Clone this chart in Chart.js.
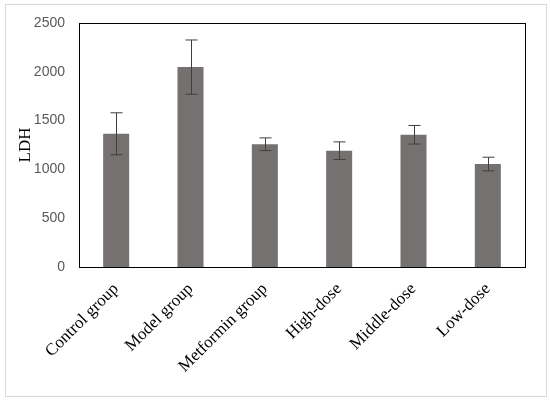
<!DOCTYPE html>
<html>
<head>
<meta charset="utf-8">
<script src="https://cdn.jsdelivr.net/npm/chart.js@4/dist/chart.umd.min.js"></script>
<style>
  html, body { margin: 0; padding: 0; background: #fff; }
  #wrap { width: 550px; height: 403px; position: relative; }
</style>
</head>
<body>
<div id="wrap"><canvas id="chart" width="550" height="403"></canvas></div>
<script>
// Data
const groups = ["Control group", "Model group", "Metformin group", "High-dose", "Middle-dose", "Low-dose"];
const ldhValues = [1365, 2048, 1258, 1192, 1355, 1055];
const ldhErrors = [215, 278, 65, 90, 95, 70];
const yTicks = [0, 500, 1000, 1500, 2000, 2500];

// Error bars + frames
const extrasPlugin = {
    id: "extras",
    beforeDraw(chart) {
        const ctx = chart.ctx;
        ctx.save();
        ctx.strokeStyle = "#d9d9d9";
        ctx.lineWidth = 1;
        ctx.strokeRect(5.5, 4.5, 541, 392);
        ctx.restore();
    },
    afterDatasetsDraw(chart) {
        const ctx = chart.ctx;
        const y = chart.scales.y;
        const meta = chart.getDatasetMeta(0);
        ctx.save();
        ctx.strokeStyle = "#3f3f3f";
        ctx.lineWidth = 1;
        meta.data.forEach((bar, i) => {
            const x = Math.round(bar.x) + 0.5;
            const top = y.getPixelForValue(ldhValues[i] + ldhErrors[i]);
            const bot = y.getPixelForValue(ldhValues[i] - ldhErrors[i]);
            ctx.beginPath();
            ctx.moveTo(x, top);
            ctx.lineTo(x, bot);
            ctx.moveTo(x - 6, top);
            ctx.lineTo(x + 6, top);
            ctx.moveTo(x - 6, bot);
            ctx.lineTo(x + 6, bot);
            ctx.stroke();
        });
        // plot frame
        const a = chart.chartArea;
        ctx.strokeStyle = "#000";
        ctx.lineWidth = 1;
        ctx.strokeRect(Math.round(a.left) + 0.5, Math.round(a.top) + 0.5,
            Math.round(a.right - a.left), Math.round(a.bottom - a.top));
        ctx.restore();
    }
};

new Chart(document.getElementById("chart"), {
    type: "bar",
    data: {
        labels: groups,
        datasets: [{
            label: "LDH",
            data: ldhValues,
            backgroundColor: "#767171",
            borderWidth: 0,
            barPercentage: 0.35,
            categoryPercentage: 1
        }]
    },
    options: {
        responsive: false,
        animation: false,
        layout: { padding: { left: 15, right: 25, top: 23, bottom: 0 } },
        plugins: {
            legend: { display: false },
            tooltip: { enabled: false }
        },
        scales: {
            x: {
                grid: { display: false, drawTicks: false },
                border: { display: false },
                afterFit: (s) => { s.height = 136; },
                ticks: {
                    minRotation: 45,
                    maxRotation: 45,
                    padding: 12,
                    color: "#000",
                    font: { family: "'Liberation Serif', 'Times New Roman', serif", size: 17 }
                }
            },
            y: {
                min: 0,
                max: 2500,
                afterBuildTicks: (s) => { s.ticks = yTicks.map(v => ({ value: v })); },
                afterFit: (s) => { s.width = 64; },
                grid: { display: false, drawTicks: false },
                border: { display: false },
                title: {
                    display: true,
                    text: "LDH",
                    color: "#000",
                    padding: 0,
                    font: { family: "'Liberation Serif', 'Times New Roman', serif", size: 17 }
                },
                ticks: {
                    padding: 14,
                    color: "#595959",
                    callback: (v) => String(v),
                    font: { family: "'Liberation Sans', Arial, sans-serif", size: 14 }
                }
            }
        }
    },
    plugins: [extrasPlugin]
});
</script>
</body>
</html>
